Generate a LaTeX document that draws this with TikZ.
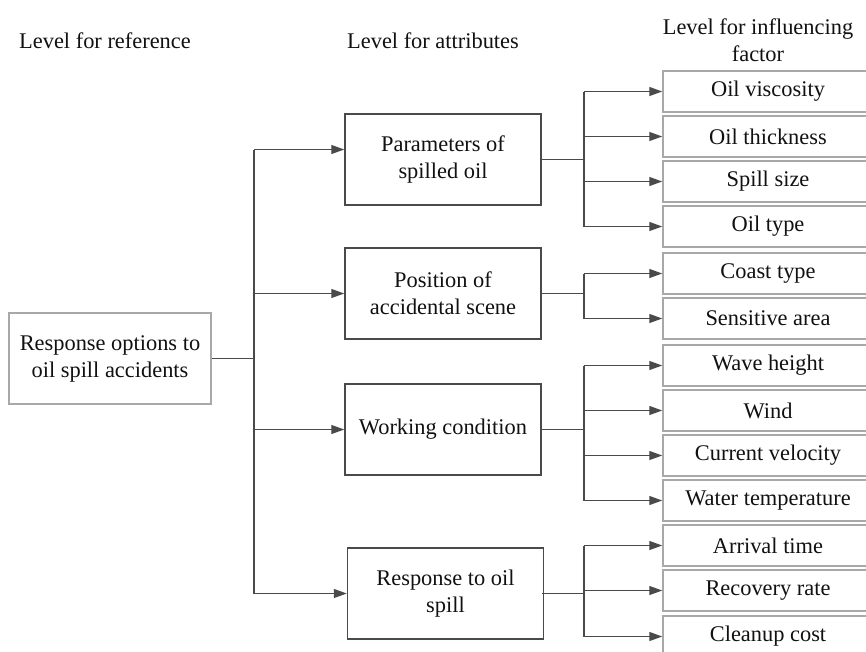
\documentclass[tikz,border=0pt]{standalone}
\usepackage{fontspec}
\setmainfont{Liberation Serif}
\usetikzlibrary{arrows.meta}
\definecolor{midline}{HTML}{4A4A4A}
\definecolor{lightline}{HTML}{A8A8A8}
\definecolor{txt}{HTML}{111111}
\begin{document}
\begin{tikzpicture}[x=1pt,y=-1pt,
  every node/.style={font=\fontsize{22.4pt}{27pt}\selectfont, text=txt, align=center, inner sep=0pt},
  midbox/.style={draw=midline, line width=1.5pt, minimum width=196pt, minimum height=91pt},
  leftbox/.style={draw=lightline, line width=1.5pt, minimum width=202pt, minimum height=91pt},
  rightbox/.style={draw=lightline, line width=1.5pt, minimum width=210pt, minimum height=41pt},
  headtext/.style={},
  conn/.style={draw=midline, line width=1.3pt},
  arr/.style={-{Triangle[length=13pt,width=9pt]}}
]
\useasboundingbox (0,0) rectangle (866,651);
\clip (0,0) rectangle (866,651);
\fill[white] (0,0) rectangle (866,651);

% headers
\node[headtext] (h1) at (105,41) {Level for reference};
\node[headtext] (h2) at (433,41) {Level for attributes};
\node[headtext] (h3) at (758,40.5) {Level for influencing\\factor};

% left box
\node[leftbox] (L) at (110,358.5) {Response options to\\oil spill accidents};

% middle boxes
\node[midbox] (P) at (443,159.5) {Parameters of\\spilled oil};
\node[midbox] (Q) at (443,293.5) {Position of\\accidental scene};
\node[midbox] (W) at (443,429.5) {Working condition};
\node[midbox] (R) at (445.5,593.5) {Response to oil\\spill};

% right boxes
\node[rightbox] (r1) at (768,91.5) {Oil viscosity};
\node[rightbox] (r2) at (768,136.5) {Oil thickness};
\node[rightbox] (r3) at (768,181.5) {Spill size};
\node[rightbox] (r4) at (768,226.5) {Oil type};
\node[rightbox] (r5) at (768,273.5) {Coast type};
\node[rightbox] (r6) at (768,318.5) {Sensitive area};
\node[rightbox] (r7) at (768,365.5) {Wave height};
\node[rightbox] (r8) at (768,410.5) {Wind};
\node[rightbox] (r9) at (768,455.5) {Current velocity};
\node[rightbox] (r10) at (768,500.5) {Water temperature};
\node[rightbox] (r11) at (768,545.5) {Arrival time};
\node[rightbox] (r12) at (768,590.5) {Recovery rate};
\node[rightbox] (r13) at (768,636.5) {Cleanup cost};

% trunk
\coordinate (tr) at (254,358.5);
\coordinate (Pin) at ([yshift=10pt]P.west);
\draw[conn] (L.east) -- (tr);
\draw[conn] (tr |- Pin) -- (tr |- R.west);
\draw[conn,arr] (tr |- Pin) -- (Pin);
\draw[conn,arr] (tr |- Q.west) -- (Q.west);
\draw[conn,arr] (tr |- W.west) -- (W.west);
\draw[conn,arr] (tr |- R.west) -- (R.west);

% branches
\coordinate (J) at (584,0);
\draw[conn] (P.east) -- (P.east -| J);
\draw[conn] (J |- r1.west) -- (J |- r4.west);
\foreach \n in {r1,r2,r3,r4} \draw[conn,arr] (J |- \n.west) -- (\n.west);

\draw[conn] (Q.east) -- (Q.east -| J);
\draw[conn] (J |- r5.west) -- (J |- r6.west);
\foreach \n in {r5,r6} \draw[conn,arr] (J |- \n.west) -- (\n.west);

\draw[conn] (W.east) -- (W.east -| J);
\draw[conn] (J |- r7.west) -- (J |- r10.west);
\foreach \n in {r7,r8,r9,r10} \draw[conn,arr] (J |- \n.west) -- (\n.west);

\draw[conn] ([xshift=-2pt]R.east) -- (R.east -| J);
\draw[conn] (J |- r11.west) -- (J |- r13.west);
\foreach \n in {r11,r12,r13} \draw[conn,arr] (J |- \n.west) -- (\n.west);
\end{tikzpicture}
\end{document}
